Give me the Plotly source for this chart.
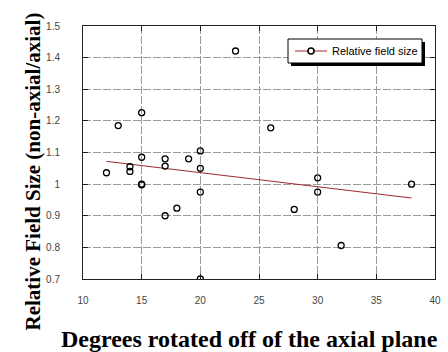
import plotly.graph_objects as go

# Data
deg = [12, 13, 14, 14, 15, 15, 15, 15, 17, 17, 17, 18, 19, 20, 20, 20, 20, 23, 26, 28, 30, 30, 32, 38]
rel = [1.036, 1.185, 1.055, 1.040, 1.226, 1.085, 1.000, 0.998, 1.080, 1.057, 0.900, 0.924, 1.080,
       1.105, 1.050, 0.975, 0.700, 1.421, 1.178, 0.920, 1.020, 0.975, 0.806, 1.000]
fit_x = [12, 38]
fit_y = [1.072, 0.956]

x_ticks = [10, 15, 20, 25, 30, 35, 40]
y_ticks = [0.7, 0.8, 0.9, 1.0, 1.1, 1.2, 1.3, 1.4, 1.5]
y_tick_text = ["0.7", "0.8", "0.9", "1", "1.1", "1.2", "1.3", "1.4", "1.5"]
legend_label = "Relative field size"

line_color = "#9e2a2f"

W, H = 448, 352
ML, MR, MT, MB = 83, 13, 26, 73
PW, PH = W - ML - MR, H - MT - MB


def px(x):
    return (x - ML) / PW


def py(y):
    return (H - MB - y) / PH


fig = go.Figure()
fig.add_trace(go.Scatter(x=fit_x, y=fit_y, mode="lines",
                         line=dict(color=line_color, width=1), showlegend=False))
fig.add_trace(go.Scatter(x=deg, y=rel, mode="markers",
                         marker=dict(symbol="circle-open", size=6, color="black",
                                     line=dict(width=1.3, color="black")),
                         showlegend=False))

axis_common = dict(showline=True, linecolor="#222", linewidth=1, mirror="ticks",
                   ticks="inside", ticklen=5, tickcolor="#222",
                   showgrid=True, gridcolor="#9a9a9a", gridwidth=1, griddash="8px,2px",
                   zeroline=False, automargin=False,
                   tickfont=dict(family="Liberation Sans, Arial", size=10, color="#444"))

fig.update_xaxes(range=[10, 40], tickvals=x_ticks, ticklabelstandoff=12, **axis_common)
fig.update_yaxes(range=[0.7, 1.5], tickvals=y_ticks, ticktext=y_tick_text,
                 ticklabelstandoff=20, **axis_common)

# manual legend box with drop shadow
fig.add_shape(type="rect", xref="paper", yref="paper",
              x0=px(291), x1=px(425), y0=py(66), y1=py(42),
              fillcolor="black", line=dict(width=0), layer="above")
fig.add_shape(type="rect", xref="paper", yref="paper",
              x0=px(288), x1=px(422), y0=py(63), y1=py(39),
              fillcolor="white", line=dict(width=1, color="black"), layer="above")
fig.add_shape(type="line", xref="paper", yref="paper",
              x0=px(295), x1=px(327), y0=py(51), y1=py(51),
              line=dict(width=1, color=line_color), layer="above")
fig.add_shape(type="circle", xref="paper", yref="paper",
              x0=px(308), x1=px(314), y0=py(54), y1=py(48),
              fillcolor="white", line=dict(width=1.5, color="black"), layer="above")
fig.add_annotation(text=legend_label, xref="paper", yref="paper",
                   x=px(330), y=py(51), xanchor="left", yanchor="middle", showarrow=False,
                   font=dict(family="Liberation Sans, Arial", size=11, color="black"))

fig.add_annotation(text="<b>Degrees rotated off of the axial plane</b>",
                   xref="paper", yref="paper", x=px(249.5), y=py(339), yanchor="middle",
                   showarrow=False,
                   font=dict(family="Liberation Serif, Times New Roman", size=24, color="black"))
fig.add_annotation(text="<b>Relative Field Size (non-axial/axial)</b>",
                   xref="paper", yref="paper", x=px(32), y=py(171.5), xanchor="center",
                   yanchor="middle", textangle=-90, showarrow=False,
                   font=dict(family="Liberation Serif, Times New Roman", size=21, color="black"))

fig.update_layout(
    width=W, height=H,
    margin=dict(l=ML, r=MR, t=MT, b=MB, autoexpand=False),
    plot_bgcolor="white", paper_bgcolor="white",
    showlegend=False,
)

fig.write_html("out.html", config={"displayModeBar": False},
               post_script="document.body.style.margin='0';")
